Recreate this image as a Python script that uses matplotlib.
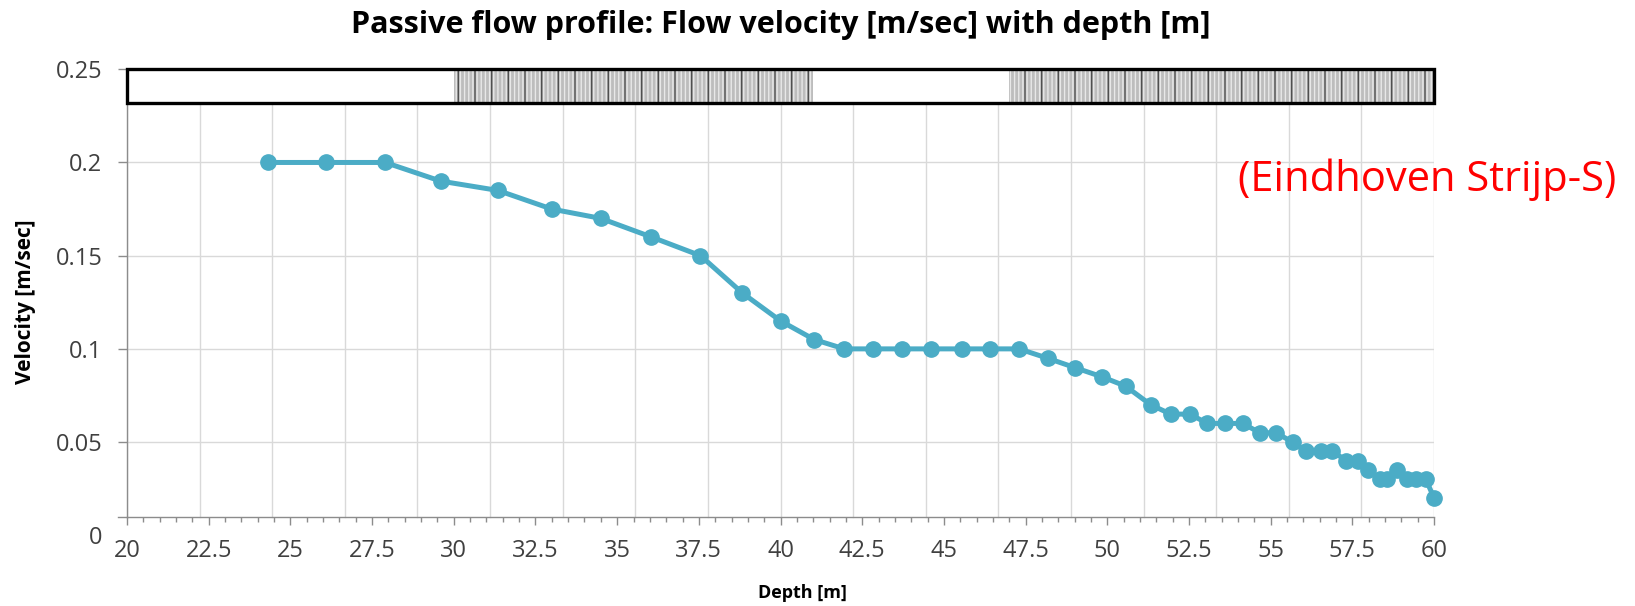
import matplotlib
matplotlib.use("Agg")
import matplotlib.pyplot as plt
from matplotlib.patches import Rectangle
import numpy as np

# ---------------- data ----------------
depth = [24.3, 26.1, 27.9, 29.6, 31.35, 33.0, 34.5, 36.05, 37.55, 38.83,
         40.0, 41.03, 41.95, 42.84, 43.71, 44.6, 45.54, 46.41, 47.3, 48.17,
         49.0, 49.84, 50.56, 51.33, 51.94, 52.53, 53.06, 53.6, 54.14, 54.67,
         55.16, 55.67, 56.08, 56.53, 56.89, 57.32, 57.68, 57.98, 58.34, 58.56,
         58.87, 59.16, 59.46, 59.75, 60.0]
velocity = [0.2, 0.2, 0.2, 0.19, 0.185, 0.175, 0.17, 0.16, 0.15, 0.13,
            0.115, 0.105, 0.1, 0.1, 0.1, 0.1, 0.1, 0.1, 0.1, 0.095,
            0.09, 0.085, 0.08, 0.07, 0.065, 0.065, 0.06, 0.06, 0.06, 0.055,
            0.055, 0.05, 0.045, 0.045, 0.045, 0.04, 0.04, 0.035, 0.03, 0.03,
            0.035, 0.03, 0.03, 0.03, 0.02]
layer_starts = [30, 47]
layer_ends = [41, 60]
x_ticks = [20, 22.5, 25, 27.5, 30, 32.5, 35, 37.5, 40, 42.5, 45, 47.5, 50, 52.5, 55, 57.5, 60]
y_ticks = [0, 0.05, 0.1, 0.15, 0.2, 0.25]

title = "Passive flow profile: Flow velocity [m/sec] with depth [m]"
xlabel = "Depth [m]"
ylabel = "Velocity [m/sec]"
site = "(Eindhoven Strijp-S)"

# ---------------- style ----------------
FONT = ["Open Sans", "DejaVu Sans"]
plt.rcParams["font.family"] = FONT
plt.rcParams["hatch.linewidth"] = 1.0

line_color = "#4bacc6"
grid_color = "#d9d9d9"
axis_color = "#8c8c8c"
text_color = "#404040"
x_cross = 0.0097      # where horizontal axis line sits
bar_bottom = 0.232    # bottom of lithology strip
xmin, xmax = 20, 60
ymin, ymax = 0, 0.25

fig = plt.figure(figsize=(16.35, 6.06), dpi=100)
ax = fig.add_axes([0.0777, 0.1167, 0.7994, 0.769])
ax.set_xlim(xmin, xmax)
ax.set_ylim(ymin, ymax)

# gridlines
for gx in np.linspace(xmin, xmax, 19):
    ax.plot([gx, gx], [x_cross, bar_bottom], color=grid_color, lw=1.0, zorder=1)
for gy in y_ticks[1:-1]:
    ax.plot([xmin, xmax], [gy, gy], color=grid_color, lw=1.0, zorder=1)

# lithology strip
for s, e in zip(layer_starts, layer_ends):
    ax.add_patch(Rectangle((s, bar_bottom), e - s, ymax - bar_bottom,
                           facecolor="#bdbdbd", edgecolor="#e8e8e8", hatch="||||",
                           lw=0, zorder=2))
    ax.add_patch(Rectangle((s, bar_bottom), e - s, ymax - bar_bottom,
                           facecolor="none", edgecolor="#505050", hatch="|",
                           lw=0, zorder=2.1))
ax.add_patch(Rectangle((xmin, bar_bottom), xmax - xmin, ymax - bar_bottom,
                       facecolor="none", edgecolor="black", lw=2.4, zorder=3,
                       clip_on=False))

# data
ax.plot(depth, velocity, color=line_color, lw=3.6, marker="o", ms=11,
        markerfacecolor=line_color, markeredgecolor=line_color, zorder=4,
        clip_on=False)

# spines
for side in ["top", "right"]:
    ax.spines[side].set_visible(False)
ax.spines["bottom"].set_position(("data", x_cross))
ax.spines["bottom"].set_color(axis_color)
ax.spines["bottom"].set_linewidth(1.0)
ax.spines["left"].set_color(axis_color)
ax.spines["left"].set_linewidth(1.0)
ax.spines["left"].set_bounds(x_cross, ymax)

# ticks
ax.set_xticks(x_ticks)
ax.set_xticklabels([f"{v:g}" for v in x_ticks])
ax.set_xticks(np.arange(xmin, xmax + 0.01, 0.5), minor=True)
ax.set_yticks(y_ticks)
ax.set_yticklabels([f"{v:g}" for v in y_ticks])
ax.tick_params(axis="x", which="major", direction="out", length=5.5, width=1,
               color=axis_color, labelsize=17, labelcolor=text_color, pad=10)
ax.tick_params(axis="x", which="minor", direction="out", length=3.5, width=1,
               color=axis_color)
ax.tick_params(axis="y", which="major", direction="out", length=6.7, width=1,
               color=axis_color, labelsize=17, labelcolor=text_color, pad=11)
ax.yaxis.get_major_ticks()[0].tick1line.set_visible(False)
ax.plot([-0.0071, 0], [x_cross, x_cross], transform=ax.get_yaxis_transform(),
        color=axis_color, lw=1, clip_on=False)

# texts
fig.text(0.4777, 0.958, title, ha="center", va="center", fontsize=22,
         fontweight="bold", color="black")
fig.text(0.491, 0.022, xlabel, ha="center", va="center", fontsize=13,
         fontweight="bold", color="black")
fig.text(0.0159, 0.5017, ylabel, ha="center", va="center", rotation=90,
         fontsize=15, fontweight="bold", color="black")
fig.text(0.757, 0.704, site, ha="left", va="center", fontsize=30,
         color="#ff0000")

fig.savefig("out.png", dpi=100)
